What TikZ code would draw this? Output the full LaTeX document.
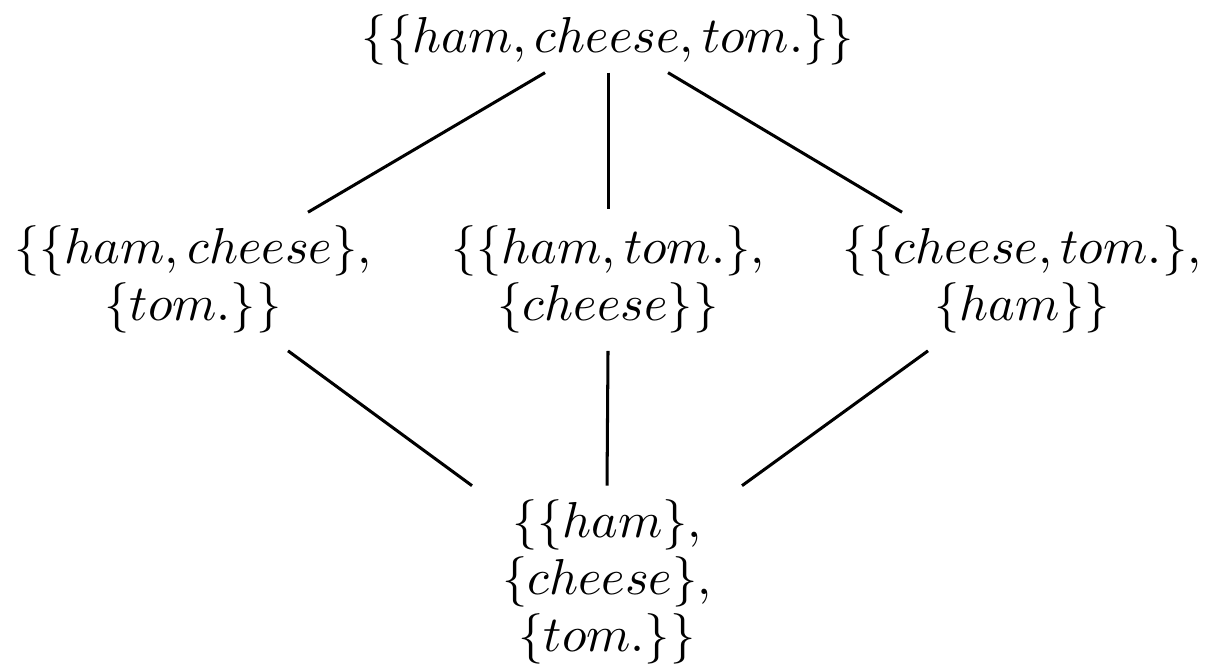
\documentclass[tikz,border=0pt]{standalone}
\usetikzlibrary{calc}

\begin{document}
\begin{tikzpicture}[
    x=0.198pt, y=-0.198pt,
    part/.style={inner sep=0pt, align=center, font={\fontsize{10}{11.3}\selectfont}},
    link/.style={line width=0.6pt}
  ]
  \useasboundingbox (0,0) rectangle (1206,665);
  \node[part, anchor=base] (all) at (608,52) {$\{\{ham, cheese, tom.\}\}$};
  \node[part] (hc) at (193,279) {$\{\{ham, cheese\},$\\$\{tom.\}\}$};
  \node[part] (ht) at (608,279) {$\{\{ham, tom.\},$\\$\{cheese\}\}$};
  \node[part] (ct) at (1022,279) {$\{\{cheese, tom.\},$\\$\{ham\}\}$};
  \node[part] (single) at (607,582) {$\{\{ham\},$\\$\{cheese\},$\\$\{tom.\}\}$};
  \draw[link] ($(all.south)+(-63,7)$) -- ($(hc.north)+(115,-12)$);
  \draw[link] ($(all.south)+(0,7)$) -- ($(ht.north)+(0,-15)$);
  \draw[link] ($(all.south)+(60,7)$) -- ($(ct.north)+(-120,-12)$);
  \draw[link] ($(hc.south)+(95,17)$) -- ($(single.north)+(-135,-13)$);
  \draw[link] ($(ht.south)+(0,17)$) -- ($(single.north)+(0,-13)$);
  \draw[link] ($(ct.south)+(-94,17)$) -- ($(single.north)+(135,-13)$);
\end{tikzpicture}
\end{document}
